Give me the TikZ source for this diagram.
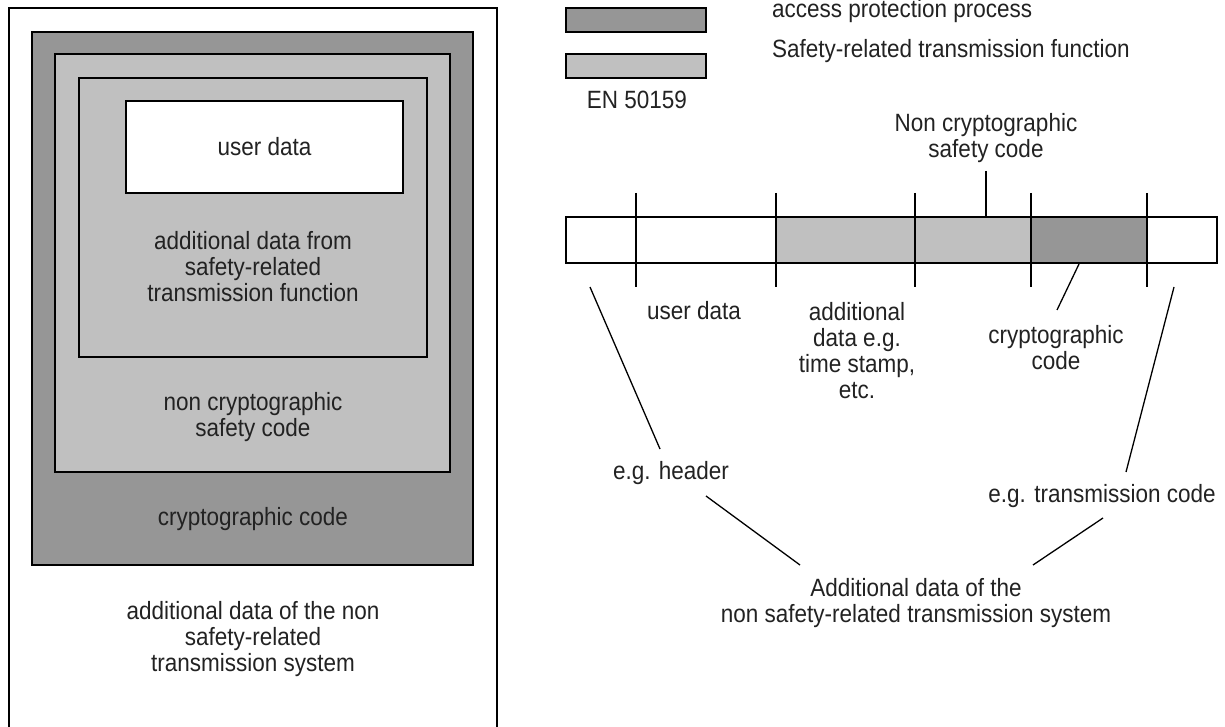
\documentclass[tikz,border=0pt]{standalone}
\usepackage{fontspec}
\setmainfont{Liberation Sans}[FakeStretch=0.9]
\definecolor{cryptogray}{RGB}{150,150,150}
\definecolor{safegray}{RGB}{192,192,192}
\definecolor{inktext}{RGB}{34,34,34}
\begin{document}
\begin{tikzpicture}[x=1pt,y=-1pt,
  every node/.style={inner sep=0pt, outer sep=0pt},
  lbl/.style={font=\fontsize{25}{26}\selectfont, align=center, text=inktext},
  frame/.style={draw=black, line width=1.6pt},
  seg/.style={draw=black, line width=1.6pt, minimum height=46pt},
  leader/.style={draw=black, line width=1.3pt},
  tickline/.style={draw=black, line width=1.5pt}]
\useasboundingbox (0,0) rectangle (1225,727);

% ---- nested frame view ----
\draw[frame] (9,727) -- (9,8) -- (497,8) -- (497,727);
\path[frame, fill=cryptogray] (32,32) rectangle (473,565);
\path[frame, fill=safegray] (55,54) rectangle (450,472);
\path[frame, fill=safegray] (79,78) rectangle (427,357);
\path[frame, fill=white] (126,101) rectangle (403,193);

\node[lbl] (ud) at (264.5,147) {user data};
\node[lbl] (adf) at (253,267) {additional data from\\safety-related\\transmission function};
\node[lbl] (ncs) at (253,417) {non cryptographic\\safety code};
\node[lbl] (cc) at (253,519) {cryptographic code};
\node[lbl] (adn) at (253,639) {additional data of the non\\safety-related\\transmission system};

% ---- legend ----
\node[seg, fill=cryptogray, minimum width=140pt, minimum height=24pt] (legA) at (636,20) {};
\node[seg, fill=safegray, minimum width=140pt, minimum height=24pt] (legB) at (636,66) {};
\node[lbl, anchor=mid west] (legAt) at (772,15) {access protection process};
\node[lbl, anchor=mid west] (legBt) at (772,55) {Safety-related transmission function};
\node[lbl] (en) at (637,100) {EN 50159};

% ---- telegram bar ----
\node[seg, fill=white, minimum width=70pt] (b1) at (601,240) {};
\node[seg, fill=white, minimum width=140pt] (b2) at (706,240) {};
\node[seg, fill=safegray, minimum width=139pt] (b3) at (845.5,240) {};
\node[seg, fill=safegray, minimum width=116pt] (b4) at (973,240) {};
\node[seg, fill=cryptogray, minimum width=116pt] (b5) at (1089,240) {};
\node[seg, fill=white, minimum width=70pt] (b6) at (1182,240) {};

\foreach \tx/\tn in {636/t1, 776/t2, 915/t3, 1031/t4, 1147/t5} {
  \coordinate (\tn a) at (\tx,193);
  \coordinate (\tn b) at (\tx,287);
  \draw[tickline] (\tn a) -- (\tn b);
}

% ---- labels of the bar ----
\node[lbl] (nc) at (986,138.5) {Non cryptographic\\safety code};
\node[lbl] (rud) at (694,311) {user data};
\node[lbl] (rad) at (857,351) {additional\\data e.g.\\time stamp,\\etc.};
\node[lbl] (rcc) at (1056,347.5) {cryptographic\\code};
\node[lbl] (hdr) at (671,473) {e.g. header};
\node[lbl] (trc) at (1102,496) {e.g. transmission code};
\node[lbl] (nsr) at (916,603) {Additional data of the\\non safety-related transmission system};

% ---- leader lines ----
\coordinate (ncA) at (986,171);
\coordinate (ncB) at (986,217);
\coordinate (ccA) at (1079,264);
\coordinate (ccB) at (1057,310);
\coordinate (hdA) at (590,287);
\coordinate (hdB) at (660,449);
\coordinate (tcA) at (1174,287);
\coordinate (tcB) at (1126,472);
\coordinate (lhA) at (706,496);
\coordinate (lhB) at (800,565);
\coordinate (rhA) at (1103,518);
\coordinate (rhB) at (1033,565);
\draw[leader] (ncA) -- (ncB);
\draw[leader] (ccA) -- (ccB);
\draw[leader] (hdA) -- (hdB);
\draw[leader] (tcA) -- (tcB);
\draw[leader] (lhA) -- (lhB);
\draw[leader] (rhA) -- (rhB);
\end{tikzpicture}
\end{document}
